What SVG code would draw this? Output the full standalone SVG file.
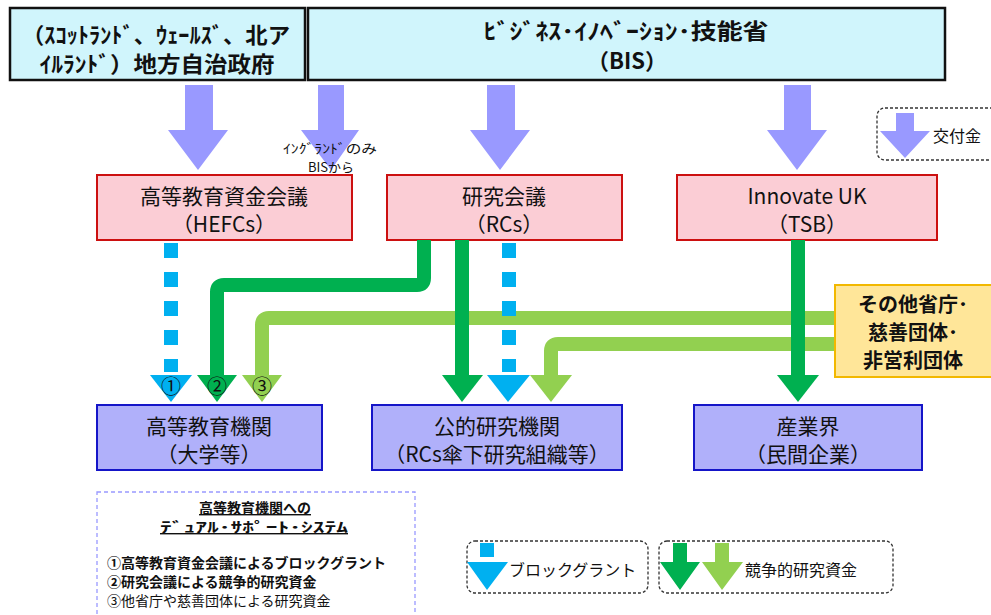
<svg xmlns="http://www.w3.org/2000/svg" width="991" height="615" viewBox="0 0 991 615">
<style>
.t{font-family:"Noto Sans CJK JP","Liberation Sans",sans-serif;fill:#111;text-anchor:middle}
.s{text-anchor:start}
.top{fill:#D0F5FC;stroke:#111;stroke-width:2.5}
.pink{fill:#FBCDD5;stroke:#CC1010;stroke-width:2}
.blue{fill:#B0B0FA;stroke:#1515C8;stroke-width:2}
.ga{fill:#9999FF}
.dg{fill:none;stroke:#00B050;stroke-width:14}
.lg{fill:none;stroke:#92D050;stroke-width:14}
.cy{fill:none;stroke:#00B0F0;stroke-width:14;stroke-dasharray:15 14}
.leg{fill:none;stroke:#333;stroke-width:1.3;stroke-dasharray:3 2}
</style>
<rect width="991" height="615" fill="#fff"/>

<g id="n-local">
<rect class="top" x="10" y="8" width="295" height="72"/>
<text class="t" x="156" y="43" font-size="22" font-weight="bold" textLength="268" lengthAdjust="spacingAndGlyphs">（ｽｺｯﾄﾗﾝﾄﾞ、ｳｪｰﾙｽﾞ、北ア</text>
<text class="t" x="157" y="72" font-size="22" font-weight="bold" textLength="235" lengthAdjust="spacingAndGlyphs">ｲﾙﾗﾝﾄﾞ）地方自治政府</text>
</g>
<g id="n-bis">
<rect class="top" x="308" y="8" width="637" height="72"/>
<text class="t" x="626" y="39" font-size="22" font-weight="bold" textLength="285" lengthAdjust="spacingAndGlyphs">ﾋﾞｼﾞﾈｽ･ｲﾉﾍﾞｰｼｮﾝ･技能省</text>
<text class="t" x="627" y="69" font-size="22" font-weight="bold">（BIS）</text>
</g>

<g id="grants">
<polygon class="ga" points="185,85 213,85 213,130 228,130 198,170 168,130 185,130"/>
<polygon class="ga" points="318,85 344,85 344,130 359,130 331,170 301,130 318,130"/>
<polygon class="ga" points="487,85 515,85 515,130 530,130 500,170 470,130 487,130"/>
<polygon class="ga" points="784,85 811,85 811,130 827,130 797,170 767,130 784,130"/>
<text class="t" x="330" y="153" font-size="13" textLength="94" lengthAdjust="spacingAndGlyphs">ｲﾝｸﾞﾗﾝﾄﾞのみ</text>
<text class="t" x="331" y="172" font-size="13">BISから</text>
</g>

<g id="legend-grant">
<rect class="leg" x="877" y="108" width="130" height="52" rx="8"/>
<polygon class="ga" points="896,113 914,113 914,131 930,131 905,158 880,131 896,131"/>
<text class="t" x="957" y="142" font-size="16">交付金</text>
</g>

<g id="n-hefcs">
<rect class="pink" x="97" y="175" width="255" height="65"/>
<text class="t" x="224" y="204" font-size="21">高等教育資金会議</text>
<text class="t" x="224" y="232" font-size="21">（HEFCs）</text>
</g>
<g id="n-rcs">
<rect class="pink" x="387" y="175" width="235" height="65"/>
<text class="t" x="504" y="204" font-size="21">研究会議</text>
<text class="t" x="504" y="232" font-size="21">（RCs）</text>
</g>
<g id="n-iuk">
<rect class="pink" x="677" y="175" width="260" height="65"/>
<text class="t" x="807" y="204" font-size="21">Innovate UK</text>
<text class="t" x="807" y="232" font-size="21">（TSB）</text>
</g>

<g id="connectors">
<path class="lg" d="M835 318 H269 Q262 318 262 325 V376"/>
<polygon fill="#92D050" points="242,375 282,375 262,402"/>
<path class="lg" d="M835 344 H558 Q551 344 551 351 V376"/>
<polygon fill="#92D050" points="530,375 572,375 551,402"/>
<path class="dg" d="M424 240 V278 Q424 285 417 285 H224 Q217 285 217 292 V376"/>
<polygon fill="#00B050" points="197,375 237,375 217,402"/>
<path class="dg" d="M462 240 V376"/>
<polygon fill="#00B050" points="442,375 483,375 462,402"/>
<path class="dg" d="M798 240 V376"/>
<polygon fill="#00B050" points="777,375 819,375 798,402"/>
<path class="cy" d="M171 243 V372"/>
<polygon fill="#00B0F0" points="150,375 192,375 171,402"/>
<path class="cy" d="M509 243 V372"/>
<polygon fill="#00B0F0" points="487,375 530,375 508,402"/>
<text class="t" x="171" y="394" font-size="20">①</text>
<text class="t" x="217" y="394" font-size="20">②</text>
<text class="t" x="262" y="394" font-size="20">③</text>
</g>

<g id="n-other">
<rect x="835" y="285" width="160" height="92" fill="#FFE699" stroke="#F2B800" stroke-width="2"/>
<text class="t" x="913" y="312" font-size="20" font-weight="bold">その他省庁･</text>
<text class="t" x="913" y="340" font-size="20" font-weight="bold">慈善団体･</text>
<text class="t" x="913" y="368" font-size="20" font-weight="bold">非営利団体</text>
</g>

<g id="n-univ">
<rect class="blue" x="97" y="405" width="225" height="65"/>
<text class="t" x="209" y="434" font-size="21">高等教育機関</text>
<text class="t" x="209" y="462" font-size="21">（大学等）</text>
</g>
<g id="n-pri">
<rect class="blue" x="372" y="405" width="250" height="65"/>
<text class="t" x="497" y="434" font-size="21">公的研究機関</text>
<text class="t" x="497" y="462" font-size="21">（RCs傘下研究組織等）</text>
</g>
<g id="n-ind">
<rect class="blue" x="694" y="405" width="228" height="65"/>
<text class="t" x="808" y="434" font-size="21">産業界</text>
<text class="t" x="808" y="462" font-size="21">（民間企業）</text>
</g>

<g id="dual">
<rect x="97" y="492" width="318" height="135" fill="none" stroke="#9999FF" stroke-width="1.3" stroke-dasharray="4 3"/>
<text class="t" x="255" y="513" font-size="14" font-weight="bold" text-decoration="underline">高等教育機関への</text>
<text class="t" x="254" y="532" font-size="14" font-weight="bold" text-decoration="underline" textLength="188" lengthAdjust="spacingAndGlyphs">ﾃﾞｭｱﾙ･ｻﾎﾟｰﾄ･ｼｽﾃﾑ</text>
<text class="t s" x="107" y="568" font-size="14" font-weight="bold">①高等教育資金会議によるブロックグラント</text>
<text class="t s" x="107" y="587" font-size="14" font-weight="bold">②研究会議による競争的研究資金</text>
<text class="t s" x="107" y="606" font-size="14">③他省庁や慈善団体による研究資金</text>
</g>

<g id="legend-block">
<rect class="leg" x="467" y="541" width="181" height="52" rx="8"/>
<rect x="480" y="543" width="14" height="14" fill="#00B0F0"/>
<polygon fill="#00B0F0" points="467,562 508,562 487,590"/>
<text class="t s" x="509" y="576" font-size="16">ブロックグラント</text>
</g>
<g id="legend-comp">
<rect class="leg" x="659" y="541" width="234" height="52" rx="8"/>
<polygon fill="#00B050" points="673,543 687,543 687,562 700,562 680,590 660,562 673,562"/>
<polygon fill="#92D050" points="715,543 729,543 729,562 743,562 722,590 702,562 715,562"/>
<text class="t s" x="745" y="576" font-size="16">競争的研究資金</text>
</g>
</svg>
